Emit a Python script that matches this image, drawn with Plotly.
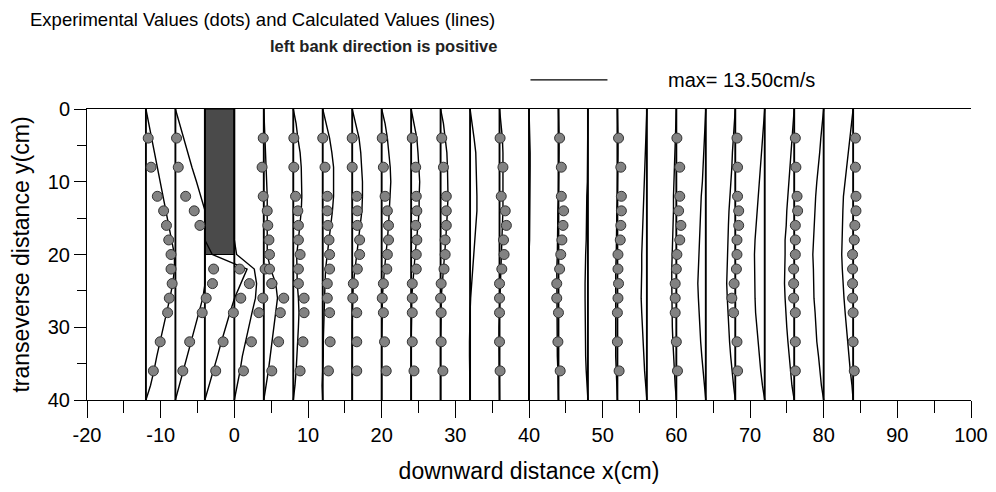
import plotly.graph_objects as go

# ---------------- data ----------------
STATIONS = [-12, -8, -4, 0, 4, 8, 12, 16, 20, 24, 28, 32, 36, 40, 44,
            48, 52, 56, 60, 64, 68, 72, 76, 80, 84]
MAX_VEL = 13.50            # cm/s, legend reference vector
LEGEND_LEN = 10.45         # x-axis cm drawn for MAX_VEL

X_TICKS = [-20, -10, 0, 10, 20, 30, 40, 50, 60, 70, 80, 90, 100]
Y_TICKS = [0, 10, 20, 30, 40]

# measured points (cm/s) at these transverse positions
DOT_Y = [4, 8, 12, 14, 16, 18, 20, 22, 24, 26, 28, 32, 36]
N = None
MEAS_M12 = [0.4, 0.9, 2.0, 3.1, 3.6, 4.0, 4.4, 4.4, 4.6, 4.1, 3.8, 2.5, 1.3]
MEAS_M8 = [0.2, 0.5, 1.8, 3.3, 4.3, N, N, 6.7, 6.5, 5.4, 4.7, 2.5, 1.3]
MEAS_M4 = [N, N, N, N, N, N, N, 6.1, 7.8, 6.3, 5.0, 3.2, 1.9]
MEAS_0 = [N, N, N, N, N, N, N, 5.4, 6.6, 5.0, 4.3, 3.0, 1.6]
MEAS_4 = [-0.1, -0.3, -0.1, 0.6, 0.7, 0.9, 1.0, 1.0, 1.4, 3.5, 2.9, 2.6, 1.4]
MEAS_8 = [0.1, 0.1, 0.4, 0.8, 0.9, 0.9, 1.2, 0.9, 0.9, 1.9, 1.9, 1.7, 1.2]
MEAS_12 = [0.0, 0.4, 0.8, 0.8, 0.9, 1.1, 1.2, 1.2, 0.8, 0.8, 1.2, 1.3, 1.0]
MEAS_16 = [0.0, 0.0, 0.8, 0.9, 0.9, 1.3, 1.3, 0.9, 0.2, 0.1, 0.8, 0.8, 0.8]
MEAS_20 = [0.1, 0.3, 0.6, 1.0, 1.2, 1.2, 1.0, 0.9, 0.3, 0.1, 0.3, 0.5, 0.8]
MEAS_24 = [0.2, 0.8, 0.9, 1.0, 0.8, 1.0, 0.9, 0.9, 0.2, 0.2, 0.2, 0.2, 0.5]
MEAS_28 = [0.2, 0.5, 1.0, 1.0, 1.0, 0.8, 0.8, 0.6, 0.1, 0.0, 0.1, 0.1, 0.4]
MEAS_36 = [0.1, 0.6, 0.3, 1.0, 1.2, 0.7, 0.8, 0.4, 0.0, 0.0, 0.0, 0.0, 0.1]
MEAS_44 = [0.2, 0.5, 0.5, 0.9, 0.8, 0.6, 0.4, 0.2, -0.3, -0.3, 0.0, -0.1, 0.3]
MEAS_52 = [0.2, 0.6, 0.7, 0.7, 0.6, 0.5, 0.1, 0.1, 0.2, 0.1, 0.0, 0.0, 0.3]
MEAS_60 = [0.1, 0.6, 0.6, 0.4, 0.8, 0.6, 0.1, 0.0, -0.2, -0.2, -0.2, 0.0, 0.2]
MEAS_68 = [0.3, 0.4, 0.4, 0.6, 0.6, 0.3, 0.3, 0.2, -0.2, -0.6, -0.3, 0.3, 0.4]
MEAS_76 = [0.2, 0.3, 0.5, 0.6, 0.2, 0.2, 0.2, -0.1, -0.1, -0.1, 0.2, 0.2, 0.2]
MEAS_84 = [0.4, 0.4, 0.5, 0.5, 0.3, 0.2, -0.1, -0.1, -0.1, -0.1, 0.0, 0.0, 0.2]

MEASURED = [(-12, MEAS_M12), (-8, MEAS_M8), (-4, MEAS_M4), (0, MEAS_0),
            (4, MEAS_4), (8, MEAS_8), (12, MEAS_12), (16, MEAS_16),
            (20, MEAS_20), (24, MEAS_24), (28, MEAS_28), (36, MEAS_36),
            (44, MEAS_44), (52, MEAS_52), (60, MEAS_60), (68, MEAS_68),
            (76, MEAS_76), (84, MEAS_84)]

# calculated profiles (cm/s)
CALC_Y = [0, 2, 4, 6, 8, 10, 12, 14, 16, 18, 20, 22, 24, 26, 28, 30, 32, 34, 36, 38, 40]
CALC_M12 = [0, 0.5, 1.0, 1.5, 2.0, 2.5, 3.0, 3.5, 4.0, 4.5, 5.0, 5.0, 4.7, 4.2, 3.6, 3.0, 2.5, 1.9, 1.4, 0.8, 0]
CALC_M8 = [0, 0.7, 1.5, 2.2, 2.9, 3.7, 4.4, 5.2, 5.2, 5.2, 5.2, 5.2, 5.2, 4.8, 4.1, 3.4, 2.7, 2.1, 1.4, 0.7, 0]
CALC_M4 = [0, 0, 0, 0, 0, 0, 0, 0, 0, 0, 1.3, 7.4, 6.3, 5.2, 4.4, 3.6, 2.9, 2.2, 1.5, 0.7, 0]
CALC_0 = [0, 0, 0, 0, 0, 0, 0, 0, 0, 0, 0.4, 3.5, 3.9, 3.7, 3.1, 2.5, 1.9, 1.4, 1.0, 0.5, 0]
CALC_4 = [0, 0.1, 0.3, 0.4, 0.5, 0.6, 0.6, 0.6, 0.6, 0.6, 0.6, 1.2, 2.1, 2.4, 2.1, 1.7, 1.4, 1.1, 0.8, 0.4, 0]
CALC_8 = [0, 0.5, 0.8, 1.2, 1.4, 1.5, 1.5, 1.4, 1.2, 0.9, 0.6, 0.6, 0.7, 0.9, 1.0, 0.9, 0.8, 0.6, 0.5, 0.3, 0]
CALC_12 = [0, 0.6, 1.2, 1.6, 1.9, 1.9, 1.9, 1.7, 1.4, 1.1, 0.8, 0.5, 0.4, 0.3, 0.3, 0.2, 0.1, 0.1, 0.0, -0.1, 0]
CALC_16 = [0, 0.6, 1.2, 1.5, 1.7, 1.8, 1.8, 1.7, 1.4, 1.1, 0.7, 0.4, 0.2, 0.1, 0, 0, 0, 0, 0, 0, 0]
CALC_20 = [0, 0.6, 1.0, 1.3, 1.5, 1.6, 1.5, 1.4, 1.2, 1.0, 0.7, 0.5, 0.3, 0.1, 0.1, 0, 0, 0, 0, 0, 0]
CALC_24 = [0, 0.5, 1.0, 1.2, 1.4, 1.5, 1.4, 1.4, 1.2, 0.9, 0.7, 0.5, 0.3, 0.1, 0.1, 0, 0, 0, 0, 0, 0]
CALC_28 = [0, 0.5, 0.8, 1.1, 1.2, 1.3, 1.3, 1.2, 1.1, 0.9, 0.7, 0.5, 0.3, 0.1, 0.1, 0, 0, 0, 0, 0, 0]
CALC_32 = [0, 0.4, 0.7, 1.0, 1.1, 1.2, 1.2, 1.2, 1.0, 0.8, 0.6, 0.5, 0.3, 0.1, 0.0, -0.1, -0.1, -0.1, -0.1, 0.0, 0]
CALC_36 = [0, 0.3, 0.5, 0.6, 0.6, 0.7, 0.6, 0.6, 0.5, 0.4, 0.3, 0.2, 0.1, 0, 0.0, -0.1, -0.1, -0.1, -0.1, 0.0, 0]
CALC_40 = [0, 0.1, 0.1, 0.2, 0.2, 0.2, 0.2, 0.1, 0.1, 0.1, 0.0, 0.0, 0.0, -0.1, -0.1, -0.1, -0.1, -0.1, 0.0, 0.0, 0]
CALC_44 = [0, 0.1, 0.1, 0.1, 0.1, 0.1, 0.0, -0.1, -0.1, -0.2, -0.2, -0.3, -0.3, -0.3, -0.3, -0.2, -0.2, -0.2, -0.1, -0.1, 0]
CALC_48 = [0, 0.0, 0.0, 0.0, 0.0, -0.1, -0.2, -0.2, -0.3, -0.3, -0.4, -0.5, -0.5, -0.5, -0.5, -0.5, -0.4, -0.4, -0.3, -0.1, 0]
CALC_52 = [0, 0.1, 0.1, 0.1, 0.1, 0.0, 0.0, -0.1, -0.1, -0.2, -0.2, -0.3, -0.3, -0.4, -0.4, -0.4, -0.4, -0.3, -0.2, -0.1, 0]
CALC_56 = [0, -0.1, -0.1, -0.2, -0.3, -0.4, -0.5, -0.6, -0.7, -0.8, -0.9, -0.9, -1.0, -1.0, -0.9, -0.8, -0.7, -0.6, -0.4, -0.2, 0]
CALC_60 = [0, -0.1, -0.1, -0.2, -0.3, -0.4, -0.5, -0.5, -0.6, -0.7, -0.8, -0.8, -0.8, -0.8, -0.8, -0.7, -0.6, -0.5, -0.3, -0.2, 0]
CALC_64 = [0, -0.1, -0.3, -0.4, -0.5, -0.6, -0.8, -0.9, -1.0, -1.2, -1.3, -1.3, -1.4, -1.3, -1.2, -1.1, -0.9, -0.7, -0.5, -0.3, 0]
CALC_68 = [0, -0.2, -0.3, -0.5, -0.6, -0.8, -0.9, -1.1, -1.2, -1.3, -1.4, -1.5, -1.5, -1.4, -1.3, -1.1, -1.0, -0.8, -0.6, -0.3, 0]
CALC_72 = [0, -0.2, -0.4, -0.6, -0.8, -1.0, -1.2, -1.4, -1.5, -1.7, -1.8, -1.8, -1.8, -1.7, -1.6, -1.4, -1.2, -1.0, -0.7, -0.4, 0]
CALC_76 = [0, -0.2, -0.4, -0.6, -0.8, -1.0, -1.1, -1.3, -1.4, -1.6, -1.6, -1.7, -1.7, -1.6, -1.5, -1.3, -1.1, -0.9, -0.7, -0.4, 0]
CALC_80 = [0, -0.3, -0.5, -0.7, -1.0, -1.2, -1.4, -1.5, -1.7, -1.8, -1.9, -1.8, -1.8, -1.7, -1.5, -1.4, -1.2, -0.9, -0.7, -0.4, 0]
CALC_84 = [0, -0.3, -0.6, -0.9, -1.2, -1.5, -1.7, -1.8, -1.9, -2.0, -2.0, -1.9, -1.8, -1.6, -1.4, -1.2, -1.0, -0.7, -0.5, -0.2, 0]

CALCULATED = [CALC_M12, CALC_M8, CALC_M4, CALC_0, CALC_4, CALC_8, CALC_12,
              CALC_16, CALC_20, CALC_24, CALC_28, CALC_32, CALC_36, CALC_40,
              CALC_44, CALC_48, CALC_52, CALC_56, CALC_60, CALC_64, CALC_68,
              CALC_72, CALC_76, CALC_80, CALC_84]

# obstruction (groyne) footprint
BOX_X = [-4, 0]
BOX_Y = [0, 20]

X_RANGE = [-20, 100]
Y_RANGE = [40, 0]
Y_TOP, Y_BOTTOM = 0, 40

# ---------------- build ----------------
scale = LEGEND_LEN / MAX_VEL
FONT = "Liberation Sans, Arial, Helvetica, sans-serif"

base_x, base_y = [], []
for s in STATIONS:
    base_x += [s, s, None]
    base_y += [Y_TOP, Y_BOTTOM, None]

calc_x, calc_y = [], []
for s, prof in zip(STATIONS, CALCULATED):
    calc_x += [s + v * scale for v in prof] + [None]
    calc_y += CALC_Y + [None]

dot_x, dot_y = [], []
for s, prof in MEASURED:
    for yy, v in zip(DOT_Y, prof):
        if v is not None:
            dot_x.append(s + v * scale)
            dot_y.append(yy)

fig = go.Figure()
fig.add_trace(go.Scatter(x=base_x, y=base_y, mode="lines",
                         line=dict(color="black", width=1.9), hoverinfo="skip"))
fig.add_trace(go.Scatter(x=calc_x, y=calc_y, mode="lines",
                         line=dict(color="black", width=1.4), hoverinfo="skip"))
fig.add_trace(go.Scatter(x=dot_x, y=dot_y, mode="markers",
                         marker=dict(size=10, color="#828282",
                                     line=dict(color="#333333", width=1))))

fig.add_shape(type="rect", xref="x", yref="y", x0=BOX_X[0], x1=BOX_X[1],
              y0=BOX_Y[0], y1=BOX_Y[1], fillcolor="#4a4a4a",
              line=dict(color="black", width=1.2), layer="below")

# legend reference vector above plot
def xpaper(x):
    return (x - X_RANGE[0]) / (X_RANGE[1] - X_RANGE[0])

LEG_X0 = 40.2
LEG_YP = 1.1
fig.add_shape(type="line", xref="paper", yref="paper",
              x0=xpaper(LEG_X0), x1=xpaper(LEG_X0 + MAX_VEL * scale),
              y0=LEG_YP, y1=LEG_YP, line=dict(color="black", width=1.2))

fig.add_annotation(text="max= %.2fcm/s" % MAX_VEL, xref="paper", yref="paper",
                   x=xpaper(58.6), y=LEG_YP, xanchor="left", yanchor="middle",
                   showarrow=False, font=dict(family=FONT, size=20, color="black"))
fig.add_annotation(text="Experimental Values (dots) and Calculated Values (lines)",
                   xref="paper", yref="paper", x=-0.067, y=1.306,
                   xanchor="left", yanchor="middle", showarrow=False,
                   font=dict(family=FONT, size=18.5, color="black"))
fig.add_annotation(text="<b>left bank direction is positive</b>",
                   xref="paper", yref="paper", x=0.205, y=1.218,
                   xanchor="left", yanchor="middle", showarrow=False,
                   font=dict(family=FONT, size=16.5, color="#222"))

fig.update_layout(
    width=988, height=484,
    margin=dict(l=79, r=25, t=101, b=92),
    plot_bgcolor="white", paper_bgcolor="white",
    showlegend=False,
    font=dict(family=FONT, size=20, color="black"),
    xaxis=dict(range=X_RANGE, tickvals=X_TICKS,
               ticktext=[str(v) for v in X_TICKS], ticks="outside",
               ticklen=17, tickwidth=1, tickcolor="black",
               showline=True, linecolor="black", linewidth=1, mirror=True,
               showgrid=False, zeroline=False, automargin=False,
               minor=dict(dtick=5, tick0=-20, ticks="outside", ticklen=12,
                          tickcolor="black", tickwidth=1, showgrid=False),
               tickfont=dict(size=20),
               title=dict(text="downward distance x(cm)", font=dict(size=23),
                          standoff=17)),
    yaxis=dict(range=Y_RANGE, tickvals=Y_TICKS,
               ticktext=[str(v) for v in Y_TICKS], ticks="outside",
               ticklen=12, tickwidth=1, tickcolor="black",
               showline=True, linecolor="black", linewidth=1, mirror=False,
               showgrid=False, zeroline=False, automargin=False,
               minor=dict(dtick=5, tick0=0, ticks="outside", ticklen=9,
                          tickcolor="black", tickwidth=1, showgrid=False),
               tickfont=dict(size=20),
               title=dict(text="transeverse distance y(cm)", font=dict(size=23),
                          standoff=11)),
)

fig.write_html("out.html")
